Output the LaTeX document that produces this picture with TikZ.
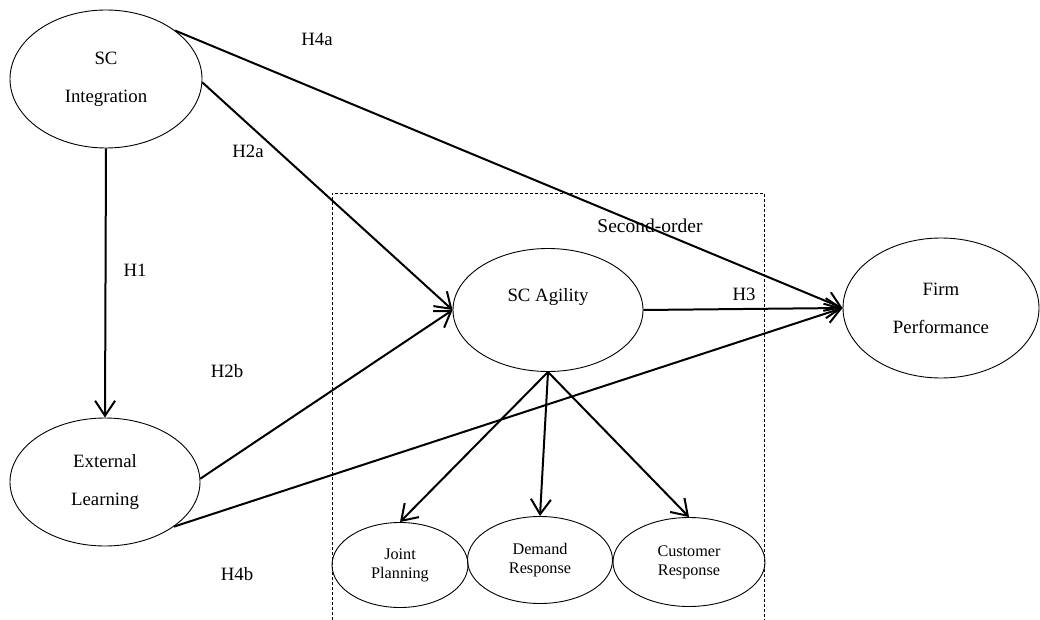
\documentclass[tikz,border=0pt]{standalone}
\usepackage{fontspec}
\setmainfont{Liberation Serif}
\usetikzlibrary{shapes.geometric,arrows.meta}
\begin{document}
\begin{tikzpicture}[x=1pt,y=-1pt,
  construct/.style={draw,ellipse,line width=0.9pt,inner sep=0pt,align=center,
    font=\fontsize{18.8}{38}\selectfont},
  dimension/.style={draw,ellipse,line width=0.9pt,inner sep=0pt,align=center,
    font=\fontsize{16.2}{19}\selectfont},
  path/.style={line width=2pt,-{Straight Barb[length=15pt,width=20pt,line width=2pt]}},
  hyp/.style={font=\fontsize{18.8}{22}\selectfont,inner sep=0pt}]
  \useasboundingbox (0,0) rectangle (1040,620);

  % second-order frame
  \draw[line width=0.8pt,dash pattern=on 3pt off 2pt] (332,625) |- (764,193) -- (764,625);
  \node[hyp,font=\fontsize{19.5}{22}\selectfont] (so) at (650,226) {Second-order};

  % constructs
  \node[construct,minimum width=192pt,minimum height=138pt] (si) at (106,79) {SC\\Integration};
  \node[construct,minimum width=190pt,minimum height=128pt] (el) at (105,482) {External\\Learning};
  \node[construct,minimum width=190pt,minimum height=123pt] (ag) at (548,310) {};
  \node[hyp] (agt) at (548,297) {SC Agility};
  \node[construct,minimum width=196pt,minimum height=140pt] (fp) at (941,308) {Firm\\Performance};

  % first-order dimensions
  \node[dimension,minimum width=136pt,minimum height=85pt] (jp) at (400,565) {Joint\\Planning};
  \node[dimension,minimum width=145pt,minimum height=87pt] (dr) at (540,560) {Demand\\Response};
  \node[dimension,minimum width=152pt,minimum height=89pt] (cr) at (689,562) {Customer\\Response};

  % hypothesised paths
  \draw[path] (si.south) -- (el.north);
  \draw[path] (si.-2) -- (ag.west);
  \draw[path] (si.35) -- (fp.west);
  \draw[path] (el.2) -- (ag.west);
  \draw[path] (el.-33.5) -- (fp.west);
  \draw[path] (ag.east) -- (fp.west);

  % loadings
  \draw[path] (ag.south) -- (jp.north);
  \draw[path] (ag.south) -- (dr.north);
  \draw[path] (ag.south) -- (cr.north);

  % path labels
  \node[hyp] (h4a) at (317,39) {H4a};
  \node[hyp] (h2a) at (248,151) {H2a};
  \node[hyp] (h1) at (135,270) {H1};
  \node[hyp] (h2b) at (227,371) {H2b};
  \node[hyp] (h3) at (744,294) {H3};
  \node[hyp] (h4b) at (237,574) {H4b};
\end{tikzpicture}
\end{document}
